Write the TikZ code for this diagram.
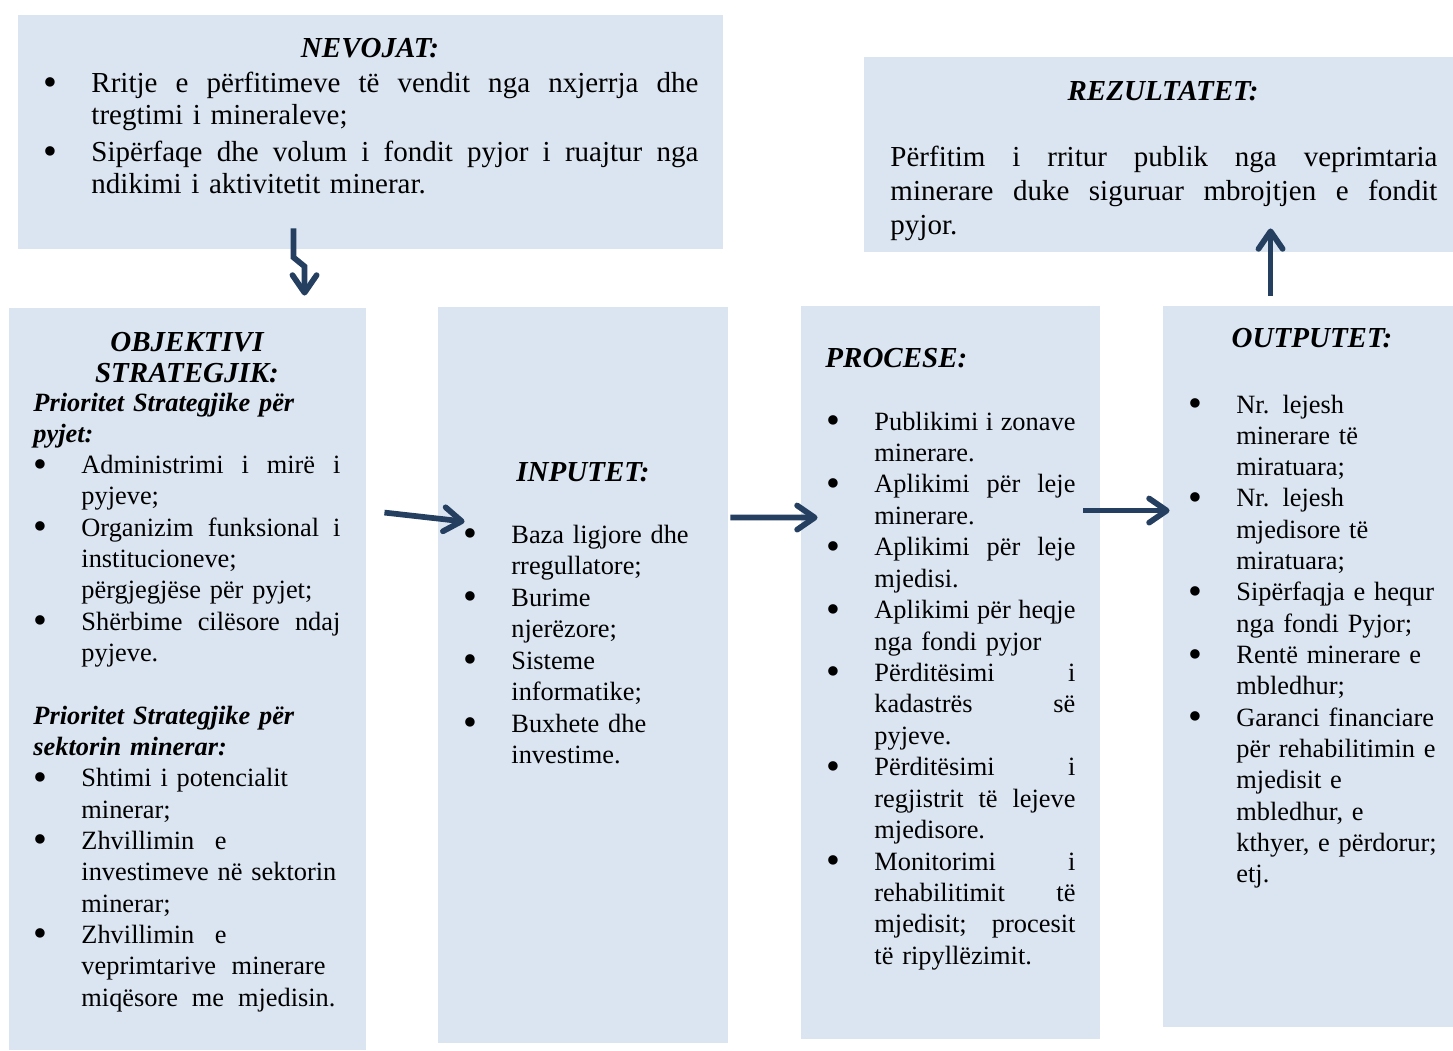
\documentclass[tikz,border=0pt]{standalone}
\usepackage{fontspec}
\setmainfont{Liberation Serif}
\usetikzlibrary{arrows.meta,calc,fit}
\definecolor{boxblue}{HTML}{DBE5F1}
\definecolor{arrowblue}{HTML}{243F60}
% one pixel of the layout
\newdimen\pxu \pxu=0.455pt
% justified line of a given width (in pixels)
\newcommand\jw[2]{\hbox to #1\pxu{\spaceskip=\fontdimen2\font plus 1fil\relax #2}}
\newcommand\blt{\raisebox{-1.6pt}{\fontsize{18}{0}\selectfont\textbullet}}
% first line of a bullet item, and a following line
\newcommand\fl[1]{\noindent\makebox[48\pxu][l]{\blt}#1\par}
\newcommand\nl[1]{\noindent\hspace*{48\pxu}#1\par}
\tikzset{
  box/.style={fill=boxblue, draw=none, inner sep=0pt},
  head/.style={font=\fontsize{13.2}{15}\selectfont\bfseries\itshape, inner sep=0pt, anchor=base},
  txt/.style={font=\fontsize{12}{14.25}\selectfont, inner sep=0pt, anchor=base west, align=left},
  flow/.style={draw=arrowblue, line width=2.6pt, -{Straight Barb[length=8pt,width=11pt,round]}}
}

\begin{document}
\begin{tikzpicture}[x=0.455pt, y=-0.455pt]
		\useasboundingbox (0,0) rectangle (1453,1050);
		%%%%% BOXES %%%%%
		\node[box, fit={(18,15) (723,249)}] (nev) {};
		\node[box, fit={(864,57) (1453,252)}] (rez) {};
		\node[box, fit={(9,308) (366,1050)}] (obj) {};
		\node[box, fit={(438,307) (728,1043)}] (inp) {};
		\node[box, fit={(801,306) (1100,1039)}] (proc) {};
		\node[box, fit={(1163,306) (1453,1027)}] (out) {};
		
		%%%%% NEVOJAT %%%%%
		\node[head] (nevH) at (370,57) {NEVOJAT:};
		\node[txt, font=\fontsize{13.2}{14.8}\selectfont, text width=298pt] (nevT) at (43,92) {%
			\fl{\jw{607}{Rritje e përfitimeve të vendit nga nxjerrja dhe}}
			\nl{tregtimi i mineraleve;}
			\vspace{4\pxu}
			\fl{\jw{607}{Sipërfaqe dhe volum i fondit pyjor i ruajtur nga}}
			\nl{ndikimi i aktivitetit minerar.}};
		
		%%%%% REZULTATET %%%%%
		\node[head] (rezH) at (1163,100) {REZULTATET:};
		\node[txt, font=\fontsize{13.2}{15.5}\selectfont, text width=248.9pt] (rezT) at (890,166) {%
			\noindent\jw{547}{Përfitim i rritur publik nga veprimtaria}\par
			\noindent\jw{547}{minerare duke siguruar mbrojtjen e fondit}\par
			pyjor.};
		
		%%%%% OBJEKTIVI %%%%%
		\node[head] (objHa) at (187,351) {OBJEKTIVI};
		\node[head] (objHb) at (187,382) {STRATEGJIK:};
		\node[txt, text width=139.7pt] (objT) at (33,411) {%
			{\bfseries\itshape Prioritet Strategjike për\par pyjet:\par}
			\fl{\jw{259}{Administrimi i mirë i}}
			\nl{pyjeve;}
			\fl{\jw{259}{Organizim funksional i}}
			\nl{institucioneve;}
			\nl{përgjegjëse për pyjet;}
			\fl{\jw{259}{Shërbime cilësore ndaj}}
			\nl{pyjeve.}
			\vspace{\baselineskip}
			{\bfseries\itshape Prioritet Strategjike për\par sektorin minerar:\par}
			\fl{Shtimi i potencialit}
			\nl{minerar;}
			\fl{\jw{145}{Zhvillimin e}}
			\nl{investimeve në sektorin}
			\nl{minerar;}
			\fl{\jw{145}{Zhvillimin e}}
			\nl{\jw{244}{veprimtarive minerare}}
			\nl{\jw{254}{miqësore me mjedisin.}}};
		
		%%%%% INPUTET %%%%%
		\node[head] (inpH) at (583,481) {INPUTET:};
		\node[txt, font=\fontsize{12}{14.35}\selectfont, text width=119.7pt] (inpT) at (463,543) {%
			\fl{Baza ligjore dhe}
			\nl{rregullatore;}
			\fl{Burime}
			\nl{njerëzore;}
			\fl{Sisteme}
			\nl{informatike;}
			\fl{Buxhete dhe}
			\nl{investime.}};
		
		%%%%% PROCESE %%%%%
		\node[head, anchor=base west] (procH) at (825,367) {PROCESE:};
		\node[txt, font=\fontsize{12}{14.3}\selectfont, text width=113.3pt] (procT) at (826,430) {%
			\fl{\jw{201}{Publikimi i zonave}}
			\nl{minerare.}
			\fl{\jw{201}{Aplikimi për leje}}
			\nl{minerare.}
			\fl{\jw{201}{Aplikimi për leje}}
			\nl{mjedisi.}
			\fl{\jw{201}{Aplikimi për heqje}}
			\nl{nga fondi pyjor}
			\fl{\jw{201}{Përditësimi i}}
			\nl{\jw{201}{kadastrës së}}
			\nl{pyjeve.}
			\fl{\jw{201}{Përditësimi i}}
			\nl{\jw{201}{regjistrit të lejeve}}
			\nl{mjedisore.}
			\fl{\jw{201}{Monitorimi i}}
			\nl{\jw{201}{rehabilitimit të}}
			\nl{\jw{201}{mjedisit; procesit}}
			\nl{të ripyllëzimit.}};
		
		%%%%% OUTPUTET %%%%%
		\node[head] (outH) at (1312,347) {OUTPUTET:};
		\node[txt, text width=117.4pt] (outT) at (1188,413) {%
			\fl{Nr. lejesh}
			\nl{minerare të}
			\nl{miratuara;}
			\fl{Nr. lejesh}
			\nl{mjedisore të}
			\nl{miratuara;}
			\fl{Sipërfaqja e hequr}
			\nl{nga fondi Pyjor;}
			\fl{Rentë minerare e}
			\nl{mbledhur;}
			\fl{Garanci financiare}
			\nl{për rehabilitimin e}
			\nl{mjedisit e}
			\nl{mbledhur, e}
			\nl{kthyer, e përdorur;}
			\nl{etj.}};
		
		%%%%% ARROWS %%%%%
		\draw[flow] ($(nev.south west)+(276,-21)$) -- ++(0,29) -- ++(11,9) -- ($(obj.north west)+(296,-12)$);
		\draw[flow] ($(obj.north east)+(18,205)$) -- ($(inp.north west)+(27,215)$);
		\draw[flow] ($(inp.north east)+(2,211)$) -- ($(proc.north west)+(17,212)$);
		\draw[flow] ($(proc.north east)+(-17,205)$) -- ($(out.north west)+(7,205)$);
		\draw[flow] ($(out.north west)+(108,-10)$) -- ($(rez.south west)+(407,-24)$);
	\end{tikzpicture}
\end{document}
